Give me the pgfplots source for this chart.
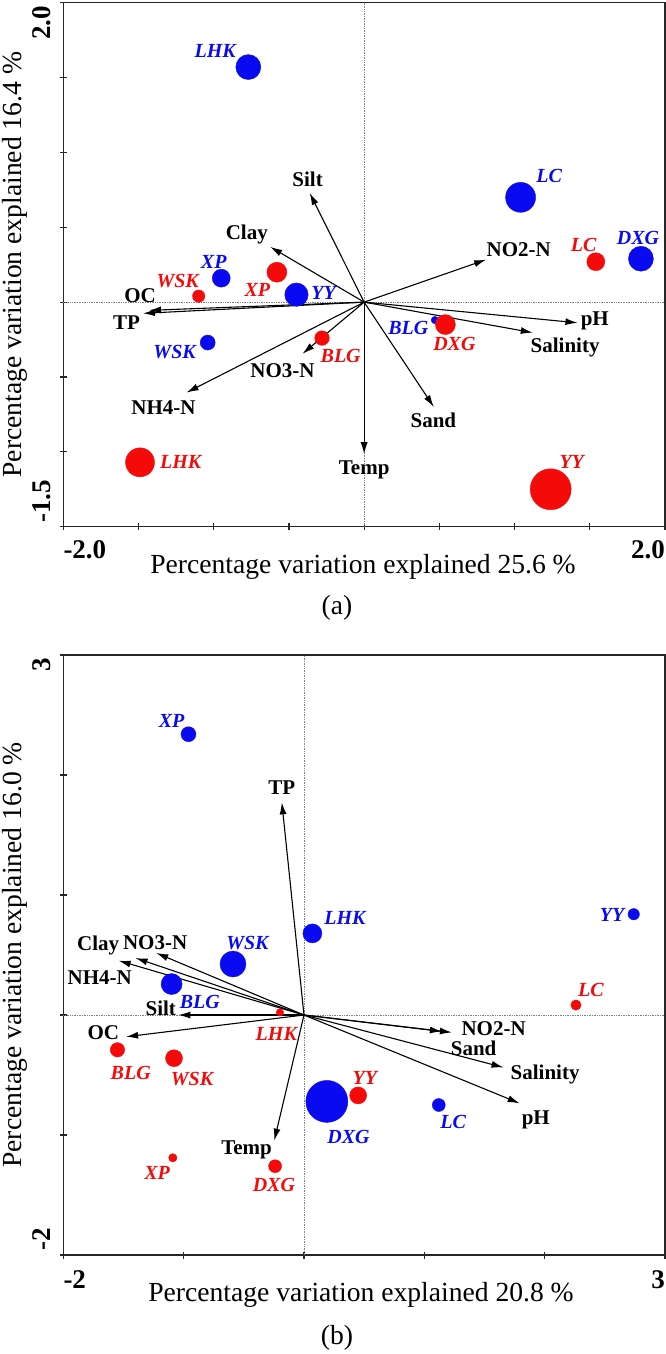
\documentclass[border=0pt]{standalone}
\usepackage{fontspec}
\setmainfont{Liberation Serif}
\usepackage{pgfplots}
\pgfplotsset{compat=1.18}
\usepackage{pgfplotstable}
\usetikzlibrary{arrows.meta}

\definecolor{ptblue}{RGB}{10,10,240}
\definecolor{ptred}{RGB}{245,10,10}

\newcommand\axlab{\fontsize{27.6}{31}\selectfont}
\newcommand\ticklab{\fontsize{27}{31}\selectfont\bfseries}
\newcommand\varlab{\fontsize{21}{25}\selectfont\bfseries}
\newcommand\sitelab{\fontsize{20}{24}\selectfont\bfseries\itshape}

% ---------------- panel (a) data ----------------
\pgfplotstableread{
x y r
-0.77 1.57 12.5
1.04 0.70 15
1.84 0.29 12.5
-0.95 0.16 9
-0.45 0.05 11.7
-1.04 -0.27 7.5
0.47 -0.12 3.7
}\blueA
\pgfplotstableread{
x y r
-1.10 0.04 6.2
-0.58 0.20 10
1.54 0.27 9
0.54 -0.15 10
-0.28 -0.24 7.3
-1.49 -1.07 14.5
1.24 -1.25 20.5
}\redA
\pgfplotstableread{
u v
-0.362 0.729
-0.624 0.369
0.811 0.284
-1.43 -0.055
-1.47 -0.075
1.418 -0.138
1.121 -0.204
0.463 -0.70
0 -1.016
-0.41 -0.345
-1.181 -0.604
}\arrA

% ---------------- panel (b) data ----------------
\pgfplotstableread{
x y r
-0.96 2.34 7.5
0.07 0.68 9.5
2.74 0.84 5.7
-0.59 0.425 13
-1.10 0.258 10.5
0.19 -0.72 21
1.12 -0.75 6.5
}\blueB
\pgfplotstableread{
x y r
2.26 0.083 5.2
-0.20 0.022 3.7
-1.55 -0.29 7.2
-1.08 -0.36 8.5
0.45 -0.67 8.5
-1.09 -1.19 4.2
-0.24 -1.26 6.5
}\redB
\pgfplotstableread{
u v
-0.184 1.772
-1.54 0.453
-1.40 0.475
-1.228 0.517
-1.044 0.0
-1.478 -0.181
1.229 -0.145
1.146 -0.137
1.658 -0.437
1.792 -0.736
-0.247 -1.047
}\arrB

\tikzset{
  bl/.style={text=ptblue, font=\sitelab, inner sep=0pt},
  rl/.style={text=ptred, font=\sitelab, inner sep=0pt},
  vl/.style={text=black, font=\varlab, inner sep=0pt},
  zero/.style={gray, densely dotted, line width=0.7pt},
}
\pgfplotsset{
  pca/.style={
    scale only axis, clip=false,
    axis line style={line width=1.4pt, black!85},
    tick style={line width=1.2pt, black!85},
    tick align=center, major tick length=7pt,
    xtick pos=lower, ytick pos=left,
    xticklabels={}, yticklabels={},
  },
  bubble/.style={scatter, only marks, mark=*,
    scatter/use mapped color={draw=#1, fill=#1},
    visualization depends on={\thisrow{r} \as \rad},
    scatter/@pre marker code/.append style={/tikz/mark size=\rad}},
  vec/.style={quiver={u=\thisrow{u}, v=\thisrow{v}},
    -{Latex[length=12pt,width=7pt]}, line width=1.1pt, black},
}

\begin{document}
\begin{tikzpicture}
\path[use as bounding box] (0,0) rectangle (666pt,-1354pt);

% ================= panel (a) =================
\begin{axis}[pca, at={(63.3pt,-526.7pt)}, anchor=south west,
  width=601.7pt, height=524pt,
  xmin=-2, xmax=2, ymin=-1.5, ymax=2,
  xtick={-2,-1.5,-1,-0.5,0,0.5,1,1.5,2},
  ytick={-1.5,-1,-0.5,0,0.5,1,1.5,2}]
\addplot[zero] coordinates {(-2,0) (2,0)};
\addplot[zero] coordinates {(0,-1.5) (0,2)};
\addplot[vec] table[x expr=0, y expr=0] {\arrA};
\addplot[bubble=ptblue] table[x=x,y=y] {\blueA};
\addplot[bubble=ptred] table[x=x,y=y] {\redA};
% variable labels
\node[vl] at (axis cs:-0.376,0.818) {Silt};
\node[vl] at (axis cs:-0.78,0.451) {Clay};
\node[vl] at (axis cs:1.028,0.351) {NO2-N};
\node[vl] at (axis cs:-1.49,0.04) {OC};
\node[vl] at (axis cs:-1.58,-0.14) {TP};
\node[vl] at (axis cs:1.533,-0.127) {pH};
\node[vl] at (axis cs:1.336,-0.30) {Salinity};
\node[vl] at (axis cs:0.46,-0.79) {Sand};
\node[vl] at (axis cs:0,-1.122) {Temp};
\node[vl] at (axis cs:-0.543,-0.46) {NO3-N};
\node[vl] at (axis cs:-1.334,-0.705) {NH4-N};
% site labels
\node[bl] at (axis cs:-0.99,1.68) {LHK};
\node[bl] at (axis cs:1.23,0.84) {LC};
\node[bl] at (axis cs:1.82,0.43) {DXG};
\node[bl] at (axis cs:-1.00,0.27) {XP};
\node[bl] at (axis cs:-0.27,0.058) {YY};
\node[bl] at (axis cs:-1.26,-0.33) {WSK};
\node[bl] at (axis cs:0.294,-0.174) {BLG};
\node[rl] at (axis cs:-1.24,0.14) {WSK};
\node[rl] at (axis cs:-0.71,0.08) {XP};
\node[rl] at (axis cs:1.46,0.38) {LC};
\node[rl] at (axis cs:0.60,-0.28) {DXG};
\node[rl] at (axis cs:-0.156,-0.36) {BLG};
\node[rl] at (axis cs:-1.22,-1.07) {LHK};
\node[rl] at (axis cs:1.38,-1.07) {YY};
\end{axis}

\node[rotate=90, anchor=base, inner sep=0pt, font=\axlab] at (21.5pt,-264.7pt) {Percentage variation explained 16.4 \%};
\node[rotate=90, anchor=base east, inner sep=0pt, font=\ticklab] at (50pt,-6pt) {2.0};
\node[rotate=90, anchor=base west, inner sep=0pt, font=\ticklab] at (50pt,-523pt) {-1.5};
\node[anchor=base west, inner sep=0pt, font=\ticklab] at (63.3pt,-558pt) {-2.0};
\node[anchor=base east, inner sep=0pt, font=\ticklab] at (665pt,-558pt) {2.0};
\node[font=\axlab] at (363pt,-566.7pt) {Percentage variation explained 25.6 \%};
\node[font=\axlab] at (337pt,-608pt) {(a)};

% ================= panel (b) =================
\begin{axis}[pca, at={(63.3pt,-1255pt)}, anchor=south west,
  width=601.7pt, height=600pt,
  xmin=-2, xmax=3, ymin=-2, ymax=3,
  xtick={-2,-1,0,1,2,3}, ytick={-2,-1,0,1,2,3}]
\addplot[zero] coordinates {(-2,0) (3,0)};
\addplot[zero] coordinates {(0,-2) (0,3)};
\addplot[vec] table[x expr=0, y expr=0] {\arrB};
\addplot[bubble=ptblue] table[x=x,y=y] {\blueB};
\addplot[bubble=ptred] table[x=x,y=y] {\redB};
% variable labels
\node[vl] at (axis cs:-0.184,1.897) {TP};
\node[vl] at (axis cs:-1.71,0.578) {Clay};
\node[vl] at (axis cs:-1.237,0.605) {NO3-N};
\node[vl] at (axis cs:-1.697,0.308) {NH4-N};
\node[vl] at (axis cs:-1.19,0.058) {Silt};
\node[vl] at (axis cs:-1.667,-0.145) {OC};
\node[vl] at (axis cs:1.576,-0.11) {NO2-N};
\node[vl] at (axis cs:1.41,-0.28) {Sand};
\node[vl] at (axis cs:2.004,-0.498) {Salinity};
\node[vl] at (axis cs:1.926,-0.875) {pH};
\node[vl] at (axis cs:-0.477,-1.125) {Temp};
% site labels
\node[bl] at (axis cs:-1.10,2.45) {XP};
\node[bl] at (axis cs:0.34,0.81) {LHK};
\node[bl] at (axis cs:2.56,0.83) {YY};
\node[bl] at (axis cs:-0.47,0.60) {WSK};
\node[bl] at (axis cs:-0.866,0.11) {BLG};
\node[bl] at (axis cs:0.37,-1.02) {DXG};
\node[bl] at (axis cs:1.24,-0.895) {LC};
\node[rl] at (axis cs:2.385,0.21) {LC};
\node[rl] at (axis cs:-0.23,-0.155) {LHK};
\node[rl] at (axis cs:-1.44,-0.48) {BLG};
\node[rl] at (axis cs:-0.93,-0.53) {WSK};
\node[rl] at (axis cs:0.505,-0.525) {YY};
\node[rl] at (axis cs:-1.22,-1.32) {XP};
\node[rl] at (axis cs:-0.25,-1.42) {DXG};
\end{axis}

\node[rotate=90, anchor=base, inner sep=0pt, font=\axlab] at (21.5pt,-955pt) {Percentage variation explained 16.0 \%};
\node[rotate=90, anchor=base east, inner sep=0pt, font=\ticklab] at (50pt,-658pt) {3};
\node[rotate=90, anchor=base west, inner sep=0pt, font=\ticklab] at (50pt,-1251pt) {-2};
\node[anchor=base west, inner sep=0pt, font=\ticklab] at (63.3pt,-1288pt) {-2};
\node[anchor=base east, inner sep=0pt, font=\ticklab] at (665pt,-1288pt) {3};
\node[font=\axlab] at (361pt,-1295pt) {Percentage variation explained 20.8 \%};
\node[font=\axlab] at (337pt,-1338pt) {(b)};
\end{tikzpicture}
\end{document}
